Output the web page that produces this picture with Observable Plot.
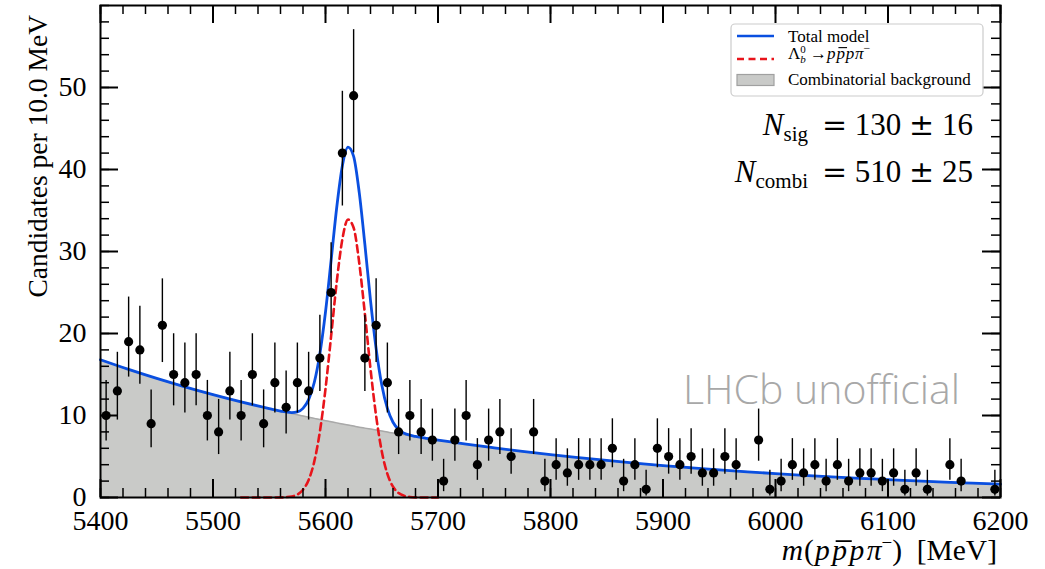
<!DOCTYPE html>
<html>
<head>
<meta charset="utf-8">
<script src="https://cdn.jsdelivr.net/npm/d3@7"></script>
<script src="https://cdn.jsdelivr.net/npm/@observablehq/plot@0.6"></script>
<style>
  html, body { margin: 0; padding: 0; background: #ffffff; }
  svg { display: block; }
</style>
</head>
<body>
<div id="chart"></div>
<script>
// ---------- data ----------
const binStart = 5400;      // MeV, left edge of first bin
const binWidth = 10;        // MeV
// candidates per 10 MeV bin (80 bins, 5405 ... 6195)
const counts = [
  10, 13, 19, 18,  9, 21, 15, 14, 15, 10,
   8, 13, 10, 15,  9, 14, 11, 14, 13, 17,
  25, 42, 49, 17, 21, 14,  8, 10,  8,  7,
   2,  7, 10,  4,  7,  8,  5,  0,  8,  2,
   4,  3,  4,  4,  4,  6,  2,  4,  1,  6,
   5,  4,  5,  3,  3,  5,  4,  0,  7,  1,
   2,  4,  3,  4,  2,  4,  2,  3,  3,  2,
   3,  1,  3,  1,  0,  4,  2,  0,  0,  1
];

// fitted model curves
const curveMass = [5400, 5425, 5450, 5475, 5500, 5525, 5550, 5560, 5570,
  5575, 5580, 5585, 5590, 5595, 5600, 5605, 5610, 5615, 5620, 5625, 5630,
  5635, 5640, 5645, 5650, 5655, 5660, 5665, 5670, 5675, 5680, 5690, 5700,
  5725, 5750, 5775, 5800, 5825, 5850, 5875, 5900, 5925, 5950, 5975, 6000,
  6025, 6050, 6075, 6100, 6125, 6150, 6175, 6200];
const bgCurve = [16.80, 15.62, 14.52, 13.50, 12.55, 11.66, 10.84, 10.53, 10.23,
  10.08, 9.93, 9.79, 9.65, 9.51, 9.37, 9.23, 9.10, 8.97, 8.84, 8.71, 8.58,
  8.46, 8.34, 8.22, 8.10, 7.98, 7.86, 7.75, 7.64, 7.53, 7.42, 7.20, 7.00,
  6.50, 6.05, 5.62, 5.22, 4.86, 4.52, 4.20, 3.90, 3.63, 3.37, 3.13, 2.91,
  2.71, 2.52, 2.34, 2.18, 2.02, 1.88, 1.75, 1.62];
const sigCurve = [0, 0, 0, 0, 0, 0, 0, 0.01, 0.13,
  0.37, 0.94, 2.14, 4.37, 8.03, 13.25, 19.7, 26.3, 31.5, 33.9, 32.9, 28.6,
  22.4, 15.7, 9.94, 5.64, 2.88, 1.32, 0.54, 0.20, 0.07, 0.02, 0, 0,
  0, 0, 0, 0, 0, 0, 0, 0, 0, 0, 0, 0,
  0, 0, 0, 0, 0, 0, 0, 0];

const xTickLabels = [5400, 5500, 5600, 5700, 5800, 5900, 6000, 6100, 6200];
const yTickLabels = [0, 10, 20, 30, 40, 50];
const xMinorStep = 20;
const yMinorStep = 2;
const xDomain = [5400, 6200];
const yDomain = [0, 60];

const legendLabels = ["Total model", "signal", "Combinatorial background"];
const watermark = "LHCb unofficial";
const nSig = ["130", "16"];
const nCombi = ["510", "25"];

// ---------- derived tables ----------
// Poisson (Gehrels) 68% intervals for the data points
const points = counts.map((n, i) => ({
  m: binStart + binWidth * (i + 0.5),
  n,
  lo: n * Math.pow(1 - 1 / (9 * n) - 1 / (3 * Math.sqrt(n)), 3),
  hi: n + Math.sqrt(n + 0.75) + 1
})).filter(d => d.n > 0);

const curve = curveMass.map((m, i) => ({
  m, bg: bgCurve[i], sig: sigCurve[i], tot: bgCurve[i] + sigCurve[i]
}));
const sigShown = curve.filter(d => d.m >= 5525 && d.m <= 5700);

const xMinor = d3.range(xDomain[0], xDomain[1] + 1, xMinorStep);
const yMinor = d3.range(yDomain[0], yDomain[1] + 0.01, yMinorStep);

const W = 1045, H = 569;
const mL = 100, mR = 45, mT = 5, mB = 72;
const pw = W - mL - mR, ph = H - mT - mB;
const BLUE = "#0a4fe0", RED = "#e8141b", GREY = "#c9cac8";
const serif = "'Liberation Serif', 'Times New Roman', serif";

const plot = Plot.plot({
  width: W, height: H,
  marginLeft: mL, marginRight: mR, marginTop: mT, marginBottom: mB,
  style: { fontFamily: serif, fontSize: "28px", color: "#000", background: "#fff" },
  x: { domain: xDomain },
  y: { domain: yDomain },
  marks: [
    Plot.areaY(curve, { x: "m", y: "bg", fill: GREY, curve: "monotone-x" }),
    Plot.lineY(curve, { x: "m", y: "bg", stroke: "#a9a9a9", strokeWidth: 1.5, curve: "monotone-x" }),
    Plot.lineY(sigShown, { x: "m", y: "sig", stroke: RED, strokeWidth: 2.6, strokeDasharray: "7,4.5", curve: "monotone-x" }),
    Plot.lineY(curve, { x: "m", y: "tot", stroke: BLUE, strokeWidth: 2.8, curve: "monotone-x" }),
    Plot.ruleX(points, { x: "m", y1: "lo", y2: "hi", stroke: "#000", strokeWidth: 1.4 }),
    Plot.dot(points, { x: "m", y: "n", r: 4.6, fill: "#000", stroke: "none" }),
    // ticks inside the frame on all four sides
    Plot.tickX(xMinor, { x: d => d, insetTop: ph - 9, stroke: "#000", strokeWidth: 1.5 }),
    Plot.tickX(xMinor, { x: d => d, insetBottom: ph - 9, stroke: "#000", strokeWidth: 1.5 }),
    Plot.tickX(xTickLabels, { x: d => d, insetTop: ph - 18, stroke: "#000", strokeWidth: 2 }),
    Plot.tickX(xTickLabels, { x: d => d, insetBottom: ph - 18, stroke: "#000", strokeWidth: 2 }),
    Plot.tickY(yMinor, { y: d => d, insetRight: pw - 9, stroke: "#000", strokeWidth: 1.5 }),
    Plot.tickY(yMinor, { y: d => d, insetLeft: pw - 9, stroke: "#000", strokeWidth: 1.5 }),
    Plot.tickY(yTickLabels, { y: d => d, insetRight: pw - 18, stroke: "#000", strokeWidth: 2 }),
    Plot.tickY(yTickLabels, { y: d => d, insetLeft: pw - 18, stroke: "#000", strokeWidth: 2 }),
    Plot.frame({ stroke: "#000", strokeWidth: 2 }),
    Plot.axisX({ ticks: xTickLabels, tickSize: 0, tickPadding: 13, label: null, fontSize: 28, tickFormat: d => String(d) }),
    Plot.axisY({ ticks: yTickLabels, tickSize: 0, tickPadding: 14, label: null, fontSize: 28, tickFormat: d => String(d) })
  ]
});

document.getElementById("chart").appendChild(plot);

// ---------- text annotations ----------
const svg = d3.select(plot);

function overline(textSel, charIndex, fs, lw) {
  const ext = textSel.node().getExtentOfChar(charIndex);
  const baseY = +textSel.attr("y");
  svg.append("line")
    .attr("x1", ext.x + 0.12 * fs).attr("x2", ext.x + ext.width + 0.08 * fs)
    .attr("y1", baseY - 0.64 * fs).attr("y2", baseY - 0.64 * fs)
    .attr("stroke", "#000").attr("stroke-width", lw);
}

// watermark
svg.append("text")
  .attr("x", 683).attr("y", 404)
  .attr("text-anchor", "start")
  .attr("font-family", "'Open Sans', 'Noto Sans', sans-serif")
  .attr("font-weight", 300)
  .attr("font-size", 41).attr("fill", "#a8a8a8")
  .text(watermark);

// y label
svg.append("text")
  .attr("transform", "translate(47,15) rotate(-90)")
  .attr("text-anchor", "end")
  .attr("font-family", serif).attr("font-size", 27.5)
  .text("Candidates per 10.0 MeV");

// x label
{
  const fs = 29.5;
  const t = svg.append("text")
    .attr("x", 997).attr("y", 560)
    .attr("text-anchor", "end")
    .attr("font-family", serif).attr("font-size", fs);
  t.append("tspan").attr("font-style", "italic").attr("letter-spacing", 1).text("m");
  t.append("tspan").attr("letter-spacing", 1).text("(");
  t.append("tspan").attr("font-style", "italic").attr("letter-spacing", 2.5).text("ppp");
  t.append("tspan").attr("font-style", "italic").text("π");
  t.append("tspan").attr("dy", -11).attr("font-size", 19).text("−");
  t.append("tspan").attr("dy", 11).text(")\u2002[MeV]");
  overline(t, 3, fs, 1.8);
}

// legend
{
  const g = svg.append("g").attr("text-anchor", "start");
  g.append("rect").attr("x", 731).attr("y", 24).attr("width", 252).attr("height", 72)
    .attr("rx", 4).attr("fill", "#fff").attr("fill-opacity", 0.85)
    .attr("stroke", "#cccccc").attr("stroke-width", 1.2);
  g.append("line").attr("x1", 737).attr("x2", 774).attr("y1", 36).attr("y2", 36)
    .attr("stroke", BLUE).attr("stroke-width", 2.6);
  g.append("line").attr("x1", 737).attr("x2", 774).attr("y1", 59).attr("y2", 59)
    .attr("stroke", RED).attr("stroke-width", 2.6).attr("stroke-dasharray", "7,4.5");
  g.append("rect").attr("x", 737).attr("y", 74.5).attr("width", 37).attr("height", 11)
    .attr("fill", GREY).attr("stroke", "#a0a0a0").attr("stroke-width", 1.2);
  const fs = 17;
  g.append("text").attr("x", 788).attr("y", 41.5).attr("font-family", serif).attr("font-size", fs)
    .text(legendLabels[0]);
  const t = g.append("text").attr("x", 788).attr("y", 58.5).attr("font-family", serif).attr("font-size", fs);
  t.append("tspan").attr("font-style", "normal").text("Λ");
  t.append("tspan").attr("dy", -6).attr("font-size", 11).text("0");
  t.append("tspan").attr("dx", -5.5).attr("dy", 10).attr("font-size", 11).attr("font-style", "italic").text("b");
  t.append("tspan").attr("dy", -4).text(" →");
  t.append("tspan").attr("font-style", "italic").attr("letter-spacing", 0.8).text("ppp");
  t.append("tspan").attr("font-style", "italic").text("π");
  t.append("tspan").attr("dy", -7).attr("font-size", 12).text("−");
  overline(t, 6, fs, 1.1);
  g.append("text").attr("x", 788).attr("y", 85).attr("font-family", serif).attr("font-size", fs)
    .text(legendLabels[2]);
}

// yields
function yieldText(y, sub, val) {
  const fs = 31;
  const t = svg.append("text").attr("x", 973).attr("y", y).attr("text-anchor", "end")
    .attr("font-family", serif).attr("font-size", fs);
  t.append("tspan").attr("font-style", "italic").text("N");
  t.append("tspan").attr("dy", 6).attr("font-size", 21).text(sub);
  t.append("tspan").attr("dy", -6).text("\u2009 ");
  t.append("tspan").attr("font-family", "'DejaVu Serif', serif").attr("font-size", 30).text("=");
  t.append("tspan").text(" " + val[0] + " ");
  t.append("tspan").attr("font-family", "'DejaVu Serif', serif").attr("font-size", 30).text("±");
  t.append("tspan").text(" " + val[1]);
}
yieldText(135, "sig", nSig);
yieldText(182, "combi", nCombi);
</script>
</body>
</html>
